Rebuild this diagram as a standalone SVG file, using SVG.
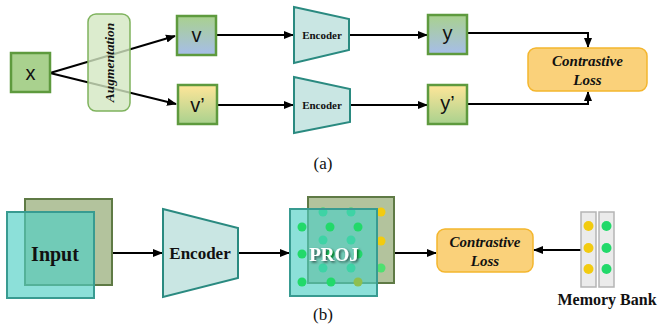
<svg xmlns="http://www.w3.org/2000/svg" width="659" height="330" viewBox="0 0 659 330">
<defs>
<linearGradient id="gBlue" x1="0" y1="0" x2="0" y2="1"><stop offset="0" stop-color="#a9d18e"/><stop offset="1" stop-color="#a6bde9"/></linearGradient>
<linearGradient id="gYel" x1="0" y1="0" x2="0" y2="1"><stop offset="0" stop-color="#ffe699"/><stop offset="1" stop-color="#a9d18e"/></linearGradient>
<marker id="ah" viewBox="0 0 10 10" refX="9" refY="5" markerWidth="5" markerHeight="5" orient="auto"><path d="M0,1 L10,5 L0,9 z" fill="#000"/></marker>
<filter id="sh" x="-10%" y="-10%" width="130%" height="140%"><feDropShadow dx="1.5" dy="1.5" stdDeviation="1" flood-color="#000" flood-opacity="0.6"/></filter>
</defs>
<style>
.ln{stroke:#000;stroke-width:2;fill:none}
.sq{stroke:#5e9a3e;stroke-width:2.5}
.enc{fill:#c9e6e3;stroke:#2a8a80;stroke-width:2}
.loss{fill:#fad17a;stroke:#f4b62e;stroke-width:1.5}
.sans{font-family:"Liberation Sans",Arial,sans-serif;font-size:20px;fill:#111}
.ser{font-family:"Liberation Serif","Times New Roman",serif;font-weight:bold;fill:#111}
.it{font-style:italic}
.cap{font-family:"Liberation Serif","Times New Roman",serif;font-size:17px;fill:#111}
.gd{fill:#22d96a}
.yd{fill:#f2cb10}
.mb{fill:#ebebeb;stroke:#b5b5b5;stroke-width:1.5}
</style>

<g id="connectors">
<path class="ln" d="M50,73 L175,36" marker-end="url(#ah)"/>
<path class="ln" d="M50,73 L176,104" marker-end="url(#ah)"/>
<path class="ln" d="M217,35 L293,35" marker-end="url(#ah)"/>
<path class="ln" d="M218,105 L293,105" marker-end="url(#ah)"/>
<path class="ln" d="M349,35 L427,35" marker-end="url(#ah)"/>
<path class="ln" d="M350,105 L427,105" marker-end="url(#ah)"/>
<path class="ln" d="M467,33 L588,33 L588,47" marker-end="url(#ah)"/>
<path class="ln" d="M467,104 L588,104 L588,92" marker-end="url(#ah)"/>
<path class="ln" d="M112,253 L162,253" marker-end="url(#ah)"/>
<path class="ln" d="M238,253 L289,253" marker-end="url(#ah)"/>
<path class="ln" d="M394,253 L436,253" marker-end="url(#ah)"/>
<path class="ln" d="M581,250 L534,250" marker-end="url(#ah)"/>
</g>

<g id="node-x">
<rect class="sq" x="11" y="53" width="39" height="39" fill="#a9d18e"/>
<text class="sans" x="30.5" y="80" text-anchor="middle">x</text>
</g>

<g id="node-augmentation">
<rect x="88" y="14" width="42" height="97" rx="8" fill="#d3e7c2" fill-opacity="0.8" stroke="#7fb35e" stroke-width="1.5"/>
<text class="ser it" font-size="13.5" transform="translate(114,62.5) rotate(-90)" text-anchor="middle">Augmentation</text>
</g>

<g id="node-v">
<rect class="sq" x="177" y="16" width="39" height="39" fill="url(#gBlue)"/>
<text class="sans" x="196.5" y="42" text-anchor="middle">v</text>
</g>
<g id="node-v2">
<rect class="sq" x="178" y="85" width="39" height="39" fill="url(#gYel)"/>
<text class="sans" x="197.5" y="112" text-anchor="middle">v’</text>
</g>

<g id="node-encoder-a1">
<path class="enc" d="M294,7 L349,19 L349,50 L294,63 Z"/>
<text class="ser" font-size="11" x="322" y="39" text-anchor="middle">Encoder</text>
</g>
<g id="node-encoder-a2">
<path class="enc" d="M294,77 L350,89 L350,122 L294,133 Z"/>
<text class="ser" font-size="11" x="322" y="109" text-anchor="middle">Encoder</text>
</g>

<g id="node-y">
<rect class="sq" x="428" y="15" width="39" height="39" fill="url(#gBlue)"/>
<text class="sans" x="447.5" y="40" text-anchor="middle">y</text>
</g>
<g id="node-y2">
<rect class="sq" x="428" y="85" width="39" height="39" fill="url(#gYel)"/>
<text class="sans" x="447.5" y="110" text-anchor="middle">y’</text>
</g>

<g id="node-loss-a">
<rect class="loss" x="528" y="48" width="119" height="43" rx="8"/>
<text class="ser it" font-size="15" x="587.5" y="66" text-anchor="middle">Contrastive</text>
<text class="ser it" font-size="15" x="587.5" y="85" text-anchor="middle">Loss</text>
</g>

<text class="cap" x="323" y="169" text-anchor="middle">(a)</text>

<g id="node-input">
<rect x="25" y="199" width="87" height="86" fill="#b3c39d" stroke="#5f7a45" stroke-width="2"/>
<rect x="7" y="212" width="87" height="86" fill="#4fcfc4" fill-opacity="0.65" stroke="#389b91" stroke-width="2"/>
<text class="ser" font-size="20" x="55" y="261" text-anchor="middle">Input</text>
</g>

<g id="node-encoder-b">
<path class="enc" d="M163,209 L238,228 L238,278 L163,297 Z"/>
<text class="ser" font-size="17" x="200" y="259" text-anchor="middle">Encoder</text>
</g>

<g id="node-proj">
<rect x="308" y="197" width="86" height="86" fill="#b3c39d" stroke="#5f7a45" stroke-width="2"/>
<circle class="gd" cx="323" cy="212" r="4.5"/><circle class="gd" cx="351" cy="212" r="4.5"/><circle class="yd" cx="381" cy="212" r="4.5"/>
<circle class="gd" cx="323" cy="240" r="4.5"/><circle class="gd" cx="351" cy="240" r="4.5"/><circle class="yd" cx="381" cy="241" r="4.5"/>
<circle class="gd" cx="323" cy="268" r="4.5"/><circle class="gd" cx="351" cy="268" r="4.5"/><circle cx="381" cy="268" r="4.5" fill="#4fe070"/>
<rect x="290" y="209" width="87" height="87" fill="#4fcfc4" fill-opacity="0.65" stroke="#389b91" stroke-width="2"/>
<circle class="gd" cx="302" cy="227" r="4.5"/><circle class="gd" cx="330" cy="227" r="4.5"/><circle class="gd" cx="358" cy="227" r="4.5"/>
<circle class="gd" cx="302" cy="254" r="4.5"/><circle class="gd" cx="330" cy="254" r="4.5"/><circle class="gd" cx="358" cy="254" r="4.5"/>
<circle class="gd" cx="302" cy="282" r="4.5"/><circle class="gd" cx="331" cy="282" r="4.5"/><circle cx="358" cy="282" r="4.5" fill="#8fbf4f"/>
<text class="ser" font-size="19" x="334" y="261" text-anchor="middle" style="fill:#fff" filter="url(#sh)">PROJ</text>
</g>

<g id="node-loss-b">
<rect class="loss" x="437" y="229" width="96" height="43" rx="8"/>
<text class="ser it" font-size="15" x="485" y="247" text-anchor="middle">Contrastive</text>
<text class="ser it" font-size="15" x="485" y="266" text-anchor="middle">Loss</text>
</g>

<g id="node-memory-bank">
<rect class="mb" x="581" y="212" width="15" height="75"/>
<rect class="mb" x="599" y="212" width="15" height="75"/>
<circle class="yd" cx="588.5" cy="226" r="5"/><circle class="yd" cx="588.5" cy="248" r="5"/><circle class="yd" cx="588.5" cy="269" r="5"/>
<circle class="gd" cx="606.5" cy="226" r="5"/><circle class="gd" cx="606.5" cy="248" r="5"/><circle class="gd" cx="606.5" cy="269" r="5"/>
<text class="ser" font-size="16" x="607" y="305" text-anchor="middle">Memory Bank</text>
</g>

<text class="cap" x="323" y="320" text-anchor="middle">(b)</text>
</svg>
